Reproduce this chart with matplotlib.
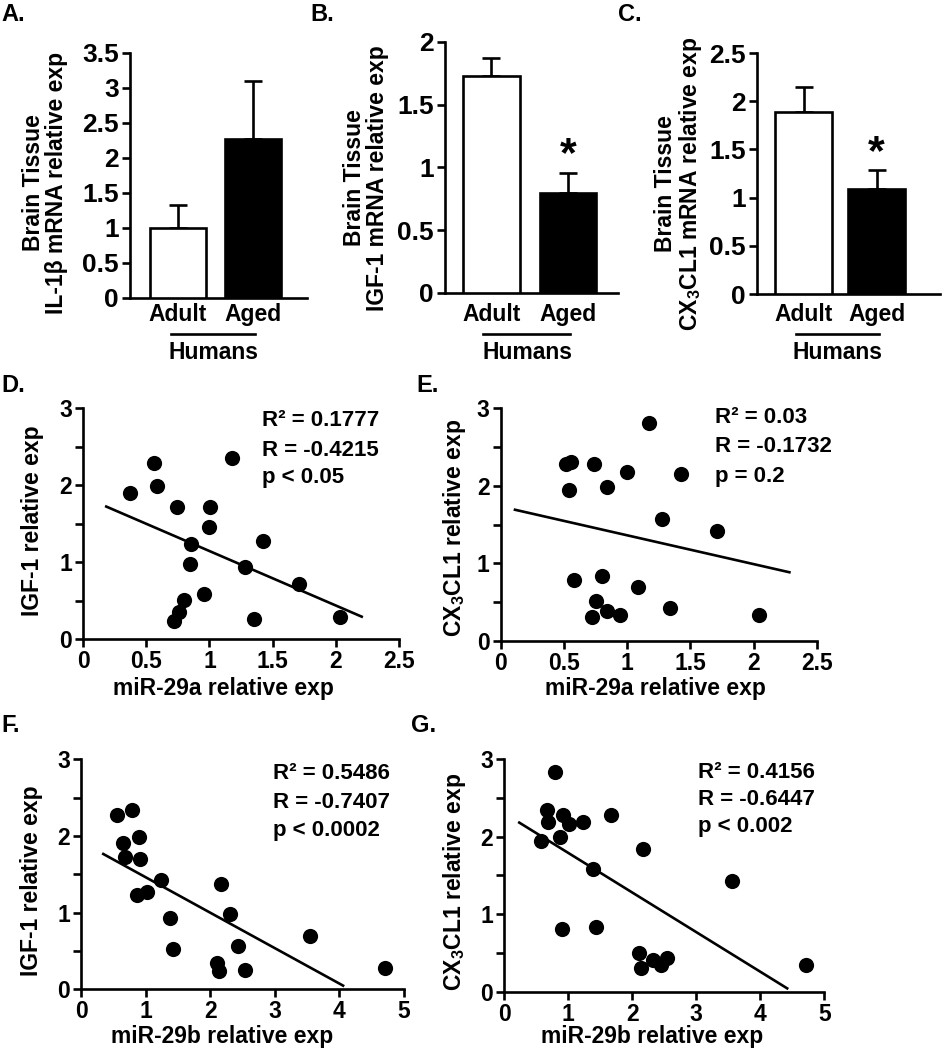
import numpy as np
import matplotlib
matplotlib.use("Agg")
import matplotlib.pyplot as plt
from matplotlib.transforms import blended_transform_factory
from matplotlib.lines import Line2D
from matplotlib.ticker import FormatStrFormatter, MultipleLocator

plt.rcParams['font.family'] = ['Liberation Sans', 'DejaVu Sans']
plt.rcParams['font.weight'] = 'bold'
plt.rcParams['mathtext.fontset'] = 'custom'
plt.rcParams['mathtext.rm'] = 'Liberation Sans:bold'
plt.rcParams['mathtext.it'] = 'Liberation Sans:bold'
plt.rcParams['mathtext.bf'] = 'Liberation Sans:bold'

# ---------------- data ----------------
groups = ["Adult", "Aged"]
group_caption = "Humans"

il1b_mean = [1.00, 2.27]
il1b_err = [0.33, 0.83]
igf1_mean = [1.73, 0.80]
igf1_err = [0.14, 0.16]
cx3_mean = [1.89, 1.09]
cx3_err = [0.26, 0.20]

# D: miR-29a vs IGF-1
d_x = [0.374, 0.558, 0.585, 0.743, 0.717, 0.761, 0.800, 0.856, 0.846, 0.954,
       1.006, 0.998, 1.178, 1.278, 1.349, 1.428, 1.712, 2.034]
d_y = [1.90, 2.28, 1.99, 1.72, 0.24, 0.35, 0.51, 1.235, 0.975, 0.585,
       1.72, 1.45, 2.35, 0.94, 0.26, 1.27, 0.715, 0.28]
d_fit_x = [0.184, 2.205]
d_fit_y = [1.72, 0.29]

# E: miR-29a vs CX3CL1
e_x = [0.514, 0.554, 0.543, 0.738, 0.844, 0.997, 1.176, 1.424, 1.279, 1.714,
       0.580, 0.799, 1.089, 0.754, 0.720, 0.839, 0.944, 1.340, 2.046]
e_y = [2.28, 2.31, 1.94, 2.28, 1.98, 2.17, 2.81, 2.15, 1.57, 1.41,
       0.79, 0.84, 0.69, 0.51, 0.31, 0.39, 0.33, 0.42, 0.34]
e_fit_x = [0.113, 2.284]
e_fit_y = [1.69, 0.885]

# F: miR-29b vs IGF-1
f_x = [0.562, 0.794, 0.644, 0.902, 0.680, 0.912, 0.861, 1.015, 1.242, 1.381,
       1.418, 2.160, 2.314, 2.433, 2.098, 2.139, 2.536, 3.541, 4.700]
f_y = [2.28, 2.34, 1.91, 1.99, 1.73, 1.70, 1.235, 1.27, 1.43, 0.935,
       0.52, 1.37, 0.98, 0.57, 0.34, 0.24, 0.25, 0.70, 0.28]
f_fit_x = [0.345, 4.057]
f_fit_y = [1.765, 0.048]

# G: miR-29b vs CX3CL1
g_x = [0.797, 0.661, 0.677, 0.911, 1.010, 1.234, 0.870, 0.573, 1.661, 2.161,
       1.391, 3.552, 0.896, 1.427, 2.109, 2.130, 2.328, 2.443, 2.536, 4.708]
g_y = [2.83, 2.34, 2.19, 2.28, 2.16, 2.19, 2.00, 1.94, 2.28, 1.84,
       1.58, 1.43, 0.81, 0.84, 0.50, 0.31, 0.41, 0.34, 0.44, 0.35]
g_fit_x = [0.234, 4.42]
g_fit_y = [2.18, 0.043]

stats_d = ["R² = 0.1777", "R = -0.4215", "p < 0.05"]
stats_e = ["R² = 0.03", "R = -0.1732", "p = 0.2"]
stats_f = ["R² = 0.5486", "R = -0.7407", "p < 0.0002"]
stats_g = ["R² = 0.4156", "R = -0.6447", "p < 0.002"]

# ---------------- layout helpers ----------------
W, H = 943, 1050
fig = plt.figure(figsize=(W / 100, H / 100), dpi=100)


def rect(left, right, top, bottom):
    return [left / W, 1 - bottom / H, (right - left) / W, (bottom - top) / H]


def fx(x):
    return x / W


def fy(y):
    return 1 - y / H


LW = 1.9
YLABEL_FS = 16.5
XLABEL_FS = 16.5
CAT_FS = 16.5
STAT_FS = 16
TICK_FS_BAR = 19
TICK_FS_SC = 16.5


def style_axes(ax):
    for s in ['top', 'right']:
        ax.spines[s].set_visible(False)
    for s in ['left', 'bottom']:
        ax.spines[s].set_linewidth(LW)
    ax.tick_params(direction='out', width=LW, length=6, which='both')


def bar_panel(rect_px, means, errs, ymax, xlim, width, star_y=None):
    ax = fig.add_axes(rect(*rect_px))
    style_axes(ax)
    xs = np.arange(len(means))
    ax.bar(xs, means, width=width, color=['white', 'black'],
           edgecolor='black', linewidth=LW, zorder=3)
    ax.errorbar(xs, means, yerr=[[0] * len(errs), errs], fmt='none',
                ecolor='black', elinewidth=LW, capsize=6.5, capthick=LW, zorder=2)
    ax.set_xlim(*xlim)
    ax.set_ylim(0, ymax)
    ax.yaxis.set_major_locator(MultipleLocator(0.5))
    ax.yaxis.set_major_formatter(FormatStrFormatter('%g'))
    ax.tick_params(axis='y', labelsize=TICK_FS_BAR, pad=2)
    ax.set_xticks([])
    tr = blended_transform_factory(ax.transData, fig.transFigure)
    for x, g in zip(xs, groups):
        ax.text(x, fy(321.5), g, transform=tr, ha='center', va='baseline',
                fontsize=CAT_FS)
    ax.add_line(Line2D([-0.1, 1.03], [fy(334.5), fy(334.5)], transform=tr,
                       color='black', linewidth=LW, clip_on=False))
    ax.text(0.47, fy(359), group_caption, transform=tr, ha='center',
            va='baseline', fontsize=CAT_FS)
    if star_y is not None:
        ax.text(1, star_y, "*", ha='center', va='center', fontsize=31,
                clip_on=False)
    return ax


def scatter_panel(rect_px, xs, ys, fx_, fy_, xmax, xstep, stats, stat_x, stat_ys):
    ax = fig.add_axes(rect(*rect_px))
    style_axes(ax)
    ax.scatter(xs, ys, s=120, color='black', zorder=3, clip_on=False,
               linewidths=0)
    ax.plot(fx_, fy_, color='black', linewidth=LW, zorder=2)
    ax.set_xlim(0, xmax)
    ax.set_ylim(0, 3)
    ax.xaxis.set_major_locator(MultipleLocator(xstep))
    ax.xaxis.set_major_formatter(FormatStrFormatter('%g'))
    ax.yaxis.set_major_locator(MultipleLocator(1))
    ax.yaxis.set_minor_locator(MultipleLocator(0.5))
    ax.yaxis.set_major_formatter(FormatStrFormatter('%g'))
    ax.tick_params(labelsize=TICK_FS_SC, pad=2)
    for t, yy in zip(stats, stat_ys):
        ax.text(stat_x, yy, t, transform=ax.transAxes, ha='left',
                va='center', fontsize=STAT_FS)
    return ax


# ---------------- bar panels ----------------
bar_panel((130, 307, 53, 297.7), il1b_mean, il1b_err, 3.5, (-0.64, 1.72), 0.75)
bar_panel((445, 618, 42, 293), igf1_mean, igf1_err, 2.0, (-0.60, 1.65), 0.74,
          star_y=1.10)
bar_panel((757, 940, 53, 294), cx3_mean, cx3_err, 2.5, (-0.64, 1.87), 0.78,
          star_y=1.46)

fig.text(fx(45), fy(183), "Brain Tissue\nIL-1β mRNA relative exp", rotation=90,
         ha='center', va='center', multialignment='center', fontsize=YLABEL_FS,
         linespacing=1.05)
fig.text(fx(366), fy(178), "Brain Tissue\nIGF-1 mRNA relative exp", rotation=90,
         ha='center', va='center', multialignment='center', fontsize=YLABEL_FS,
         linespacing=1.05)
fig.text(fx(679), fy(184), "Brain Tissue\nCX$_3$CL1 mRNA relative exp",
         rotation=90, ha='center', va='center', multialignment='center',
         fontsize=YLABEL_FS, linespacing=1.05)

# ---------------- scatter panels ----------------
scatter_panel((83, 399, 408, 639), d_x, d_y, d_fit_x, d_fit_y, 2.5, 0.5,
              stats_d, 0.566, [0.948, 0.818, 0.70])
scatter_panel((500.7, 816.7, 408, 641), e_x, e_y, e_fit_x, e_fit_y, 2.5, 0.5,
              stats_e, 0.678, [0.961, 0.833, 0.704])
scatter_panel((81, 404, 759.3, 989.3), f_x, f_y, f_fit_x, f_fit_y, 5, 1,
              stats_f, 0.594, [0.94, 0.814, 0.692])
scatter_panel((504.3, 824.3, 759, 991.7), g_x, g_y, g_fit_x, g_fit_y, 5, 1,
              stats_g, 0.604, [0.944, 0.824, 0.708])

fig.text(fx(33), fy(521), "IGF-1 relative exp", rotation=90, ha='center',
         va='center', fontsize=YLABEL_FS)
fig.text(fx(454), fy(528), "CX$_3$CL1 relative exp", rotation=90, ha='center',
         va='center', fontsize=YLABEL_FS)
fig.text(fx(32), fy(881), "IGF-1 relative exp", rotation=90, ha='center',
         va='center', fontsize=YLABEL_FS)
fig.text(fx(454), fy(882), "CX$_3$CL1 relative exp", rotation=90, ha='center',
         va='center', fontsize=YLABEL_FS)

fig.text(fx(223), fy(689), "miR-29a relative exp", ha='center', va='center',
         fontsize=XLABEL_FS)
fig.text(fx(655), fy(689), "miR-29a relative exp", ha='center', va='center',
         fontsize=XLABEL_FS)
fig.text(fx(222), fy(1037), "miR-29b relative exp", ha='center', va='center',
         fontsize=XLABEL_FS)
fig.text(fx(652), fy(1036), "miR-29b relative exp", ha='center', va='center',
         fontsize=XLABEL_FS)

# ---------------- panel letters ----------------
letters = ["A.", "B.", "C.", "D.", "E.", "F.", "G."]
letter_px = [(1, 3), (310, 3), (618, 3), (1, 374), (416, 374), (1, 714), (411, 714)]
for t, (x, y) in zip(letters, letter_px):
    fig.text(fx(x), fy(y), t, ha='left', va='top', fontsize=17,
             fontweight='bold')

fig.savefig("out.png", dpi=100)
